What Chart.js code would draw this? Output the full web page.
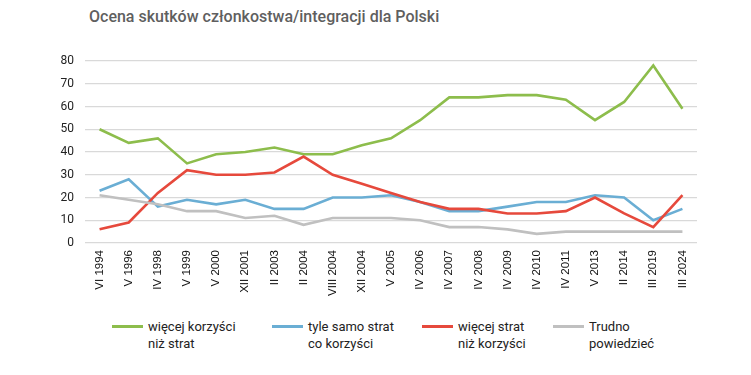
<!DOCTYPE html>
<html>
<head>
<meta charset="utf-8">
<script src="https://cdn.jsdelivr.net/npm/chart.js@4"></script>
<style>
  body { margin: 0; background: #fff; font-family: Roboto, "Noto Sans", sans-serif; }
  #wrap { position: relative; width: 751px; height: 375px; overflow: hidden; }
  #title { position: absolute; left: 89px; top: 7px; font-size: 16px; font-weight: 500; color: #5f5f5f; white-space: nowrap; }
  #graph { position: absolute; left: 0; top: 0; }
  .leg { position: absolute; top: 318px; font-size: 13px; line-height: 17px; color: #222; }
  .leg span { position: absolute; top: 7px; width: 31px; height: 3px; }
  .leg div { position: absolute; white-space: nowrap; }
</style>
</head>
<body>
<div id="wrap">
  <div id="title">Ocena skutków członkostwa/integracji dla Polski</div>
  <canvas id="graph" width="751" height="310"></canvas>
  <div id="legend"></div>
</div>
<script>
const etykiety = ['VI 1994', 'V 1996', 'IV 1998', 'V 1999', 'V 2000', 'XII 2001', 'II 2003', 'II 2004', 'VIII 2004', 'XII 2004',
  'V 2005', 'IV 2006', 'IV 2007', 'IV 2008', 'IV 2009', 'IV 2010', 'IV 2011', 'V 2013', 'II 2014', 'III 2019', 'III 2024'];

const wiecejKorzysci = [50, 44, 46, 35, 39, 40, 42, 39, 39, 43, 46, 54, 64, 64, 65, 65, 63, 54, 62, 78, 59];
const tyleSamo = [23, 28, 16, 19, 17, 19, 15, 15, 20, 20, 21, 18, 14, 14, 16, 18, 18, 21, 20, 10, 15];
const wiecejStrat = [6, 9, 22, 32, 30, 30, 31, 38, 30, 26, 22, 18, 15, 15, 13, 13, 14, 20, 13, 7, 21];
const trudno = [21, 19, 17, 14, 14, 11, 12, 8, 11, 11, 11, 10, 7, 7, 6, 4, 5, 5, 5, 5, 5];

const yTicks = [0, 10, 20, 30, 40, 50, 60, 70, 80];

const serie = [
  { nazwa: ['więcej korzyści', 'niż strat'], dane: wiecejKorzysci, kolor: '#8dbd4c', x: 112 },
  { nazwa: ['tyle samo strat', 'co korzyści'], dane: tyleSamo, kolor: '#6aaed4', x: 272 },
  { nazwa: ['więcej strat', 'niż korzyści'], dane: wiecejStrat, kolor: '#e6493c', x: 422 },
  { nazwa: ['Trudno', 'powiedzieć'], dane: trudno, kolor: '#c0c0c0', x: 553 }
];

const config = {
  type: 'line',
  data: {
    labels: etykiety,
    datasets: serie.map(s => ({
      label: s.nazwa.join(' '),
      data: s.dane,
      borderColor: s.kolor,
      backgroundColor: s.kolor,
      borderWidth: 2.6,
      pointRadius: 0,
      tension: 0
    })).reverse()
  },
  options: {
    responsive: false,
    animation: false,
    layout: { padding: { top: 61, right: 54, left: 0, bottom: 0 } },
    plugins: { legend: { display: false }, title: { display: false }, tooltip: { enabled: false } },
    scales: {
      x: {
        offset: true,
        grid: { display: false, drawTicks: false },
        border: { display: false },
        ticks: { maxRotation: 90, minRotation: 90, padding: 7, color: '#111', font: { family: 'Liberation Sans', size: 11.5 } },
        afterFit: axis => { axis.height = 67; }
      },
      y: {
        min: 0,
        max: 80,
        afterBuildTicks: axis => { axis.ticks = yTicks.map(v => ({ value: v })); },
        grid: { color: '#d9d9d9', lineWidth: 1.3, drawTicks: false },
        border: { display: false },
        ticks: { padding: 11, color: '#222', font: { family: 'Roboto', size: 12 } },
        afterFit: axis => { axis.width = 85; }
      }
    }
  }
};

const chart = new Chart(document.querySelector('#graph'), config);

// legenda w HTML, bo etykiety są dwuwierszowe
let legenda = document.getElementById('legend');
serie.forEach(s => {
  legenda.innerHTML += `
    <div class="leg" style="left:${s.x}px">
      <span style="background:${s.kolor}"></span>
      <div style="left:36px">${s.nazwa[0]}<br>${s.nazwa[1]}</div>
    </div>`;
});
</script>
</body>
</html>
